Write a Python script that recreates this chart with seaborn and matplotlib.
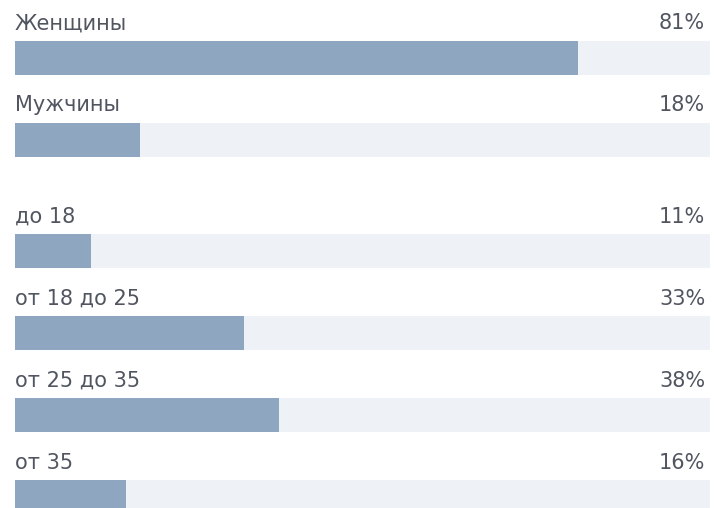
import pandas as pd
import seaborn as sns
import matplotlib.pyplot as plt

# ------------------------------
# Data
# ------------------------------
gender_labels = ["Женщины", "Мужчины"]
gender_values = [81, 18]

age_labels = ["до 18", "от 18 до 25", "от 25 до 35", "от 35"]
age_values = [11, 33, 38, 16]

FILL = "#8fa6c0"
TRACK = "#eef1f5"
TEXT = "#505560"

sns.set_theme(style="white")
plt.rcParams["font.family"] = ["DejaVu Sans"]

W, H = 714, 508
fig = plt.figure(figsize=(W / 100, H / 100), dpi=100)
fig.patch.set_facecolor("white")

ROW = 82      # px per row
BAR = 34      # bar thickness px
LEFT, RIGHT = 15, 710


def panel(top, labels, values):
    n = len(labels)
    ax = fig.add_axes([LEFT / W, 1 - (top + n * ROW) / H, (RIGHT - LEFT) / W, n * ROW / H])
    df = pd.DataFrame({"label": labels, "value": values, "track": [100] * n})
    w = BAR / ROW
    sns.barplot(data=df, y="label", x="track", color=TRACK, width=w, saturation=1, ax=ax, orient="h")
    sns.barplot(data=df, y="label", x="value", color=FILL, width=w, saturation=1, ax=ax, orient="h")
    for p in ax.patches:
        p.set_edgecolor("none")
        p.set_linewidth(0)
    for i, (lab, v) in enumerate(zip(labels, values)):
        ax.text(0, i - w / 2 - 0.09, lab, ha="left", va="bottom", fontsize=15, color=TEXT)
        ax.text(99.3, i - w / 2 - 0.09, f"{v}%", ha="right", va="bottom", fontsize=15, color=TEXT)
    ax.set_xlim(0, 100)
    ax.set_ylim(n - 0.5, -0.5)
    ax.axis("off")
    return ax


panel(57.5 - ROW / 2, gender_labels, gender_values)
panel(251 - ROW / 2, age_labels, age_values)

fig.savefig("out.png", dpi=100, facecolor="white")
